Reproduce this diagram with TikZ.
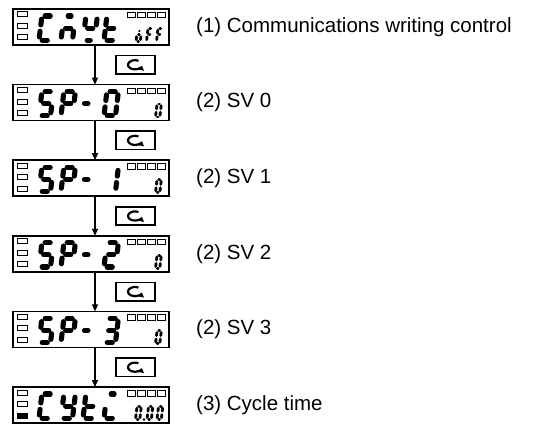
\documentclass[tikz,border=0pt]{standalone}
\usepackage{fontspec}
\setmainfont{Liberation Sans}
\usetikzlibrary{arrows.meta}
\tikzset{
  dispbox/.style={draw, line width=1.7pt, minimum width=156pt, minimum height=36pt, inner sep=0pt, outer sep=0pt},
  ledbox/.style={draw, line width=1pt},
  ledfill/.style={draw, fill=black, line width=1pt},
  bigseg/.style={line width=5.1pt, line cap=round},
  smallseg/.style={line width=2.8pt, line cap=round},
  keybox/.style={draw, line width=1.7pt, minimum width=39pt, minimum height=18.5pt, inner sep=0pt, outer sep=0pt},
  keyicon/.style={line width=2.2pt, -{Triangle[length=4.5pt,width=6.5pt]}},
  flowarrow/.style={line width=1.3pt, -{Triangle[length=7pt,width=6pt]}},
  desctext/.style={anchor=west, inner sep=0pt, font=\fontsize{20.5}{24}\selectfont},
}
% seven-segment pieces
\def\dsega{\draw[curseg] (\dg,\dh) -- (\dw-\dg,\dh);}
\def\dsegb{\draw[curseg] (\dw,\dh-\dg) -- (\dw,\dh/2+\dg);}
\def\dsegc{\draw[curseg] (\dw,\dh/2-\dg) -- (\dw,\dg);}
\def\dsegd{\draw[curseg] (\dg,0) -- (\dw-\dg,0);}
\def\dsege{\draw[curseg] (0,\dg) -- (0,\dh/2-\dg);}
\def\dsegf{\draw[curseg] (0,\dh/2+\dg) -- (0,\dh-\dg);}
\def\dsegg{\draw[curseg] (\dg,\dh/2) -- (\dw-\dg,\dh/2);}
\def\dsegk{\draw[curseg] (0,\dh/2) -- (3.5,\dh/2);}
\def\dsegm{\draw[curseg] (\dw/2-1.5,\dh) -- (\dw/2+1.5,\dh);}
\def\dsegn{\draw[curseg] (\dw/2-1.5,0) -- (\dw/2+1.5,0);}
\def\dsegp{\fill (\dw/2,\dh*0.8) circle[radius=1.2];}
\newcommand\digitcell[7]{%
  \begin{scope}[shift={(#1,#2)}, xslant=0.12, curseg/.style={#6}]
    \def\dw{#3}\def\dh{#4}\def\dg{#5}%
    \foreach \s in {#7}{\csname dseg\s\endcsname}%
  \end{scope}}
\newcommand\bigdigit[2]{\digitcell{#1}{4.8}{11.5}{24.2}{3.2}{bigseg}{#2}}
\newcommand\smalldigit[2]{\digitcell{#1}{3.6}{4.3}{13}{1.75}{smallseg}{#2}}
% fixed parts of a display (local coordinates, origin bottom-left)
\newcommand\dispparts[1]{%
  \draw[ledbox] (4,28) rectangle (14,33);
  \draw[ledbox] (4,16.5) rectangle (14,21.5);
  \draw[#1] (4,5) rectangle (14,10);
  \foreach \i in {0,1,2,3}{\draw[ledbox] (114+10*\i,27) rectangle (122+10*\i,32.5);}
}
\begin{document}
\begin{tikzpicture}[x=1pt,y=1pt]
\useasboundingbox (0,0) rectangle (544,424);

% display frames
\node[dispbox] (d1) at (91,397) {};
\node[dispbox] (d2) at (91,321.4) {};
\node[dispbox] (d3) at (91,245.8) {};
\node[dispbox] (d4) at (91,170.2) {};
\node[dispbox] (d5) at (91,94.6) {};
\node[dispbox] (d6) at (91,19) {};

% display 1: CmWt / oFF
\begin{scope}[shift={(13,379)}]
  \dispparts{ledbox}
  \bigdigit{26}{a,f,e,d}
  \bigdigit{48}{m,e,g,c}
  \bigdigit{70}{f,b,g,n}
  \bigdigit{91}{f,e,g,d}
  \smalldigit{123}{c,d,e,g,p}
  \smalldigit{133.5}{a,f,g,e}
  \smalldigit{143.5}{a,f,g,e}
\end{scope}
% display 2: SP-0
\begin{scope}[shift={(13,303.4)}]
  \dispparts{ledbox}
  \bigdigit{26}{a,f,g,c,d}
  \bigdigit{48}{a,b,f,g,e}
  \bigdigit{70}{k}
  \bigdigit{91}{a,b,c,d,e,f}
  \smalldigit{142.5}{a,b,c,d,e,f}
\end{scope}
% display 3: SP-1
\begin{scope}[shift={(13,227.8)}]
  \dispparts{ledbox}
  \bigdigit{26}{a,f,g,c,d}
  \bigdigit{48}{a,b,f,g,e}
  \bigdigit{70}{k}
  \bigdigit{91}{b,c}
  \smalldigit{142.5}{a,b,c,d,e,f}
\end{scope}
% display 4: SP-2
\begin{scope}[shift={(13,152.2)}]
  \dispparts{ledbox}
  \bigdigit{26}{a,f,g,c,d}
  \bigdigit{48}{a,b,f,g,e}
  \bigdigit{70}{k}
  \bigdigit{91}{a,b,g,e,d}
  \smalldigit{142.5}{a,b,c,d,e,f}
\end{scope}
% display 5: SP-3
\begin{scope}[shift={(13,76.6)}]
  \dispparts{ledbox}
  \bigdigit{26}{a,f,g,c,d}
  \bigdigit{48}{a,b,f,g,e}
  \bigdigit{70}{k}
  \bigdigit{91}{a,b,g,c,d}
  \smalldigit{142.5}{a,b,c,d,e,f}
\end{scope}
% display 6: CYt + 0.00
\begin{scope}[shift={(13,1)}]
  \dispparts{ledfill}
  \bigdigit{26}{a,f,e,d}
  \bigdigit{48}{f,b,g,c,d}
  \bigdigit{70}{f,e,g,d}
  \bigdigit{91}{m,e,d}
  \smalldigit{122.5}{a,b,c,d,e,f}
  \fill (131,3.6) circle[radius=1.4];
  \smalldigit{134}{a,b,c,d,e,f}
  \smalldigit{144}{a,b,c,d,e,f}
\end{scope}

% mode keys
\foreach \n/\y in {1/359.2,2/283.6,3/208,4/132.4,5/56.8}{
  \node[keybox] (b\n) at (135.5,\y) {};
  \draw[keyicon] ([shift={({7*cos(60)-0.5},{4.6*sin(60)})}]b\n.center)
     arc[start angle=60, end angle=350, x radius=7, y radius=4.6];
}

% flow arrows
\draw[flowarrow] ([xshift=4pt]d1.south) -- ([xshift=4pt]d2.north);
\draw[flowarrow] ([xshift=4pt]d2.south) -- ([xshift=4pt]d3.north);
\draw[flowarrow] ([xshift=4pt]d3.south) -- ([xshift=4pt]d4.north);
\draw[flowarrow] ([xshift=4pt]d4.south) -- ([xshift=4pt]d5.north);
\draw[flowarrow] ([xshift=4pt]d5.south) -- ([xshift=4pt]d6.north);

% labels
\node[desctext] (t1) at (196,397) {(1) Communications writing control};
\node[desctext] (t2) at (196,321.4) {(2) SV 0};
\node[desctext] (t3) at (196,245.8) {(2) SV 1};
\node[desctext] (t4) at (196,170.2) {(2) SV 2};
\node[desctext] (t5) at (196,94.6) {(2) SV 3};
\node[desctext] (t6) at (196,19) {(3) Cycle time};
\end{tikzpicture}
\end{document}
